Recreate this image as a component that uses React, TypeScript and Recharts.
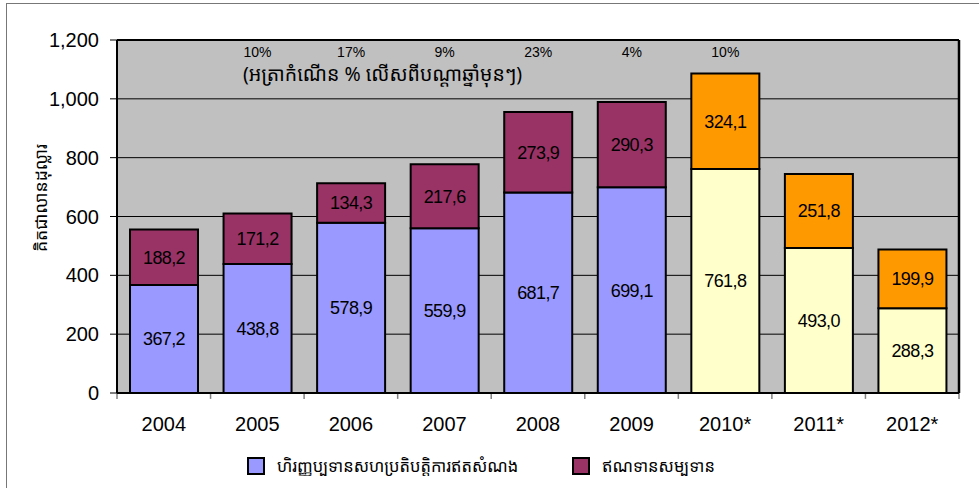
import React from 'react';
import { BarChart, Bar, XAxis, YAxis, CartesianGrid, Cell, LabelList, ReferenceLine } from 'recharts';

const categories = ['2004', '2005', '2006', '2007', '2008', '2009', '2010*', '2011*', '2012*'];
const grants = [367.2, 438.8, 578.9, 559.9, 681.7, 699.1, 761.8, 493.0, 288.3];
const loans = [188.2, 171.2, 134.3, 217.6, 273.9, 290.3, 324.1, 251.8, 199.9];
const growth = ['', '10%', '17%', '9%', '23%', '4%', '10%', '', ''];
const projected = [false, false, false, false, false, false, true, true, true];
const yTicks = [0, 200, 400, 600, 800, 1000, 1200];

const seriesNames = ['ហិរញ្ញប្បទានសហប្រតិបត្តិការឥតសំណង', 'ឥណទានសម្បទាន'];
const titleText = '(អត្រាកំណើន % លើសពីបណ្ដាឆ្នាំមុនៗ)';
const yLabel = 'គិតជាលានដុល្លារ';

const data = categories.map((c, i) => ({
  year: c,
  grant: grants[i],
  loan: loans[i],
  growth: growth[i],
  proj: projected[i],
}));

const FONT = 'Arial, "Liberation Sans", sans-serif';
const KH = '"Noto Sans Khmer", "Khmer OS", "Khmer OS System", "Noto Serif Khmer", sans-serif';

const fmt = (v: any) => Number(v).toFixed(1).replace('.', ',');

const GrowthLabel = (props: any) => {
  const { x, width, value } = props;
  if (!value) return null;
  return (
    <text x={Number(x) + Number(width) / 2} y={57} textAnchor="middle" fontSize={14} fontFamily={FONT} fill="#000">
      {value}
    </text>
  );
};

const lastCat = categories[categories.length - 1];

export default function App() {
  return (
    <div style={{ position: 'absolute', left: 0, top: 0, width: 979, height: 488, background: '#fff', overflow: 'hidden' }}>
      <div style={{ position: 'absolute', left: 6, top: 3, width: 1000, height: 600, borderLeft: '1px solid #777', borderTop: '1px solid #777' }} />
      <BarChart
        width={979}
        height={488}
        data={data}
        margin={{ top: 40, right: 20, bottom: 55, left: 7 }}
        style={{ position: 'absolute', left: 0, top: 0 }}
      >
        <CartesianGrid vertical={false} stroke="#000" strokeWidth={1} fill="#C0C0C0" fillOpacity={1} />
        <XAxis
          dataKey="year"
          height={40}
          tickLine={false}
          tickSize={0}
          tickMargin={24}
          axisLine={{ stroke: '#000', strokeWidth: 2 }}
          tick={{ fontSize: 20, fill: '#000', fontFamily: FONT }}
          interval={0}
        />
        <YAxis
          width={110}
          domain={[0, 1200]}
          ticks={yTicks}
          interval={0}
          tickSize={7}
          tickMargin={11}
          tickLine={{ stroke: '#000' }}
          axisLine={{ stroke: '#000', strokeWidth: 2 }}
          tickFormatter={(v: number) => v.toLocaleString('en-US')}
          tick={{ fontSize: 20, fill: '#000', fontFamily: FONT }}
          label={(p: any) => (
            <text
              x={40}
              y={198}
              transform="rotate(-90, 40, 198)"
              textAnchor="middle"
              dominantBaseline="central"
              fontSize={17.5}
              fontFamily={KH}
              fill="#000"
            >
              {yLabel}
            </text>
          )}
        />
        <ReferenceLine y={1200} stroke="#000" strokeWidth={2} />
        <ReferenceLine x={lastCat} position="end" stroke="#000" strokeWidth={2.5} />
        {categories.map((c) => (
          <ReferenceLine
            key={'t' + c}
            segment={[{ x: c, y: 0 }, { x: c, y: -20 }]}
            position="start"
            ifOverflow="visible"
            stroke="#808080"
            strokeWidth={1.5}
          />
        ))}
        <ReferenceLine
          segment={[{ x: lastCat, y: 0 }, { x: lastCat, y: -20 }]}
          position="end"
          ifOverflow="visible"
          stroke="#808080"
          strokeWidth={1.5}
        />
        <Bar dataKey="grant" name={seriesNames[0]} stackId="a" barSize={68} stroke="#000" strokeWidth={2} isAnimationActive={false}>
          {data.map((d, i) => (
            <Cell key={i} fill={d.proj ? '#FFFFCC' : '#9999FF'} />
          ))}
          <LabelList dataKey="grant" position="center" formatter={fmt} fontSize={18} fill="#000" fontFamily={FONT} style={{ letterSpacing: -0.6 }} />
        </Bar>
        <Bar dataKey="loan" name={seriesNames[1]} stackId="a" barSize={68} stroke="#000" strokeWidth={2} isAnimationActive={false}>
          {data.map((d, i) => (
            <Cell key={i} fill={d.proj ? '#FF9900' : '#993366'} />
          ))}
          <LabelList dataKey="loan" position="center" formatter={fmt} fontSize={18} fill="#000" fontFamily={FONT} style={{ letterSpacing: -0.6 }} />
          <LabelList dataKey="growth" content={GrowthLabel} />
        </Bar>
      </BarChart>
      <div style={{ position: 'absolute', left: 243, top: 60, fontSize: 19.5, fontFamily: KH, color: '#000', whiteSpace: 'nowrap' }}>
        {titleText}
      </div>
      <div style={{ position: 'absolute', left: 247, top: 454, display: 'flex', alignItems: 'center', fontFamily: KH, fontSize: 16.5, color: '#000', whiteSpace: 'nowrap' }}>
        <span style={{ display: 'inline-block', width: 14, height: 14, background: '#9999FF', border: '2px solid #000', marginRight: 12 }} />
        <span>{seriesNames[0]}</span>
      </div>
      <div style={{ position: 'absolute', left: 572, top: 454, display: 'flex', alignItems: 'center', fontFamily: KH, fontSize: 16.5, color: '#000', whiteSpace: 'nowrap' }}>
        <span style={{ display: 'inline-block', width: 14, height: 14, background: '#993366', border: '2px solid #000', marginRight: 12 }} />
        <span>{seriesNames[1]}</span>
      </div>
    </div>
  );
}
